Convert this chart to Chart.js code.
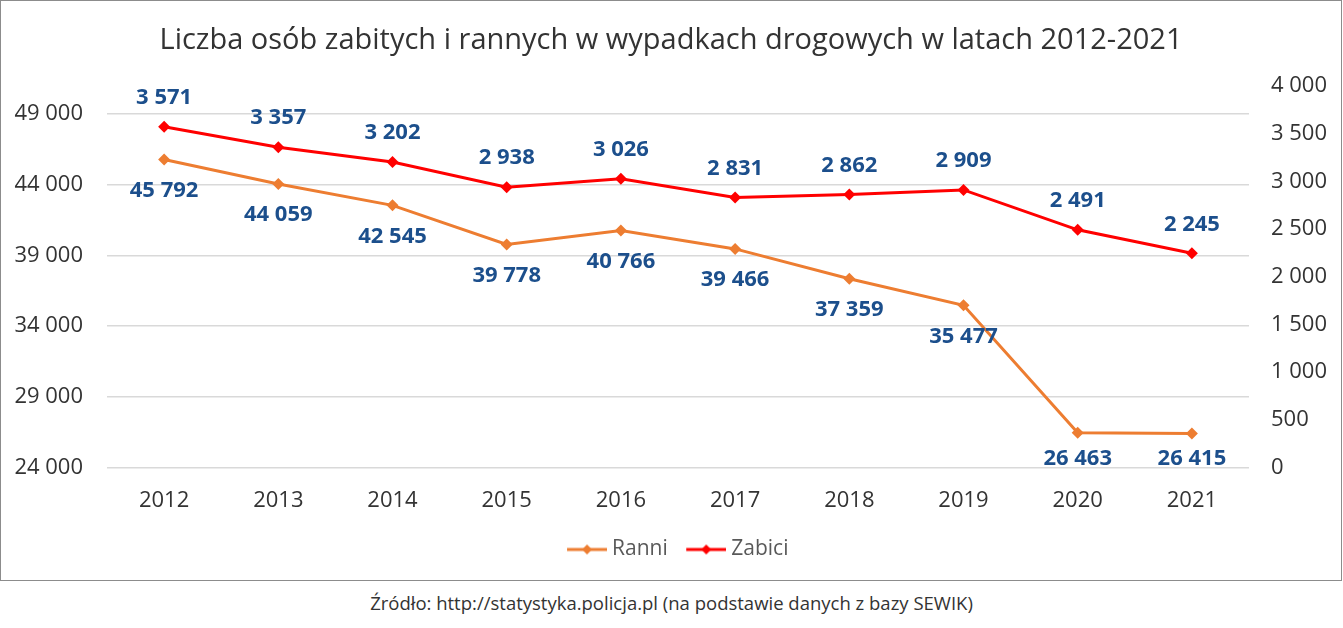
<!DOCTYPE html>
<html>
<head>
<meta charset="utf-8">
<script src="https://cdn.jsdelivr.net/npm/chart.js@4"></script>
<style>
  body { margin: 0; background: #fff; }
  #box { position: absolute; left: 0; top: 0; width: 1340px; height: 579px; border: 1px solid #8c8c8c; }
  #src { position: absolute; left: 0; top: 590px; width: 1343px; text-align: center;
         font: 18.5px "Open Sans"; color: #333; }
</style>
</head>
<body>
<div id="box"><canvas id="myChart" width="1340" height="579"></canvas></div>
<div id="src">Źródło: http://statystyka.policja.pl (na podstawie danych z bazy SEWIK)</div>
<script>
var years = ['2012', '2013', '2014', '2015', '2016', '2017', '2018', '2019', '2020', '2021'];
var ranni = [45792, 44059, 42545, 39778, 40766, 39466, 37359, 35477, 26463, 26415];
var zabici = [3571, 3357, 3202, 2938, 3026, 2831, 2862, 2909, 2491, 2245];
var leftTicks = [24000, 29000, 34000, 39000, 44000, 49000];
var rightTicks = [0, 500, 1000, 1500, 2000, 2500, 3000, 3500, 4000];

var FONT = '"Open Sans", "Liberation Sans", sans-serif';

function fmt(v) {
    return String(v).replace(/\B(?=(\d{3})+(?!\d))/g, ' ');
}

// legend icon: line with a diamond, drawn at the right end of a wider
// transparent image so there is a gap between items and little before the text
function legendIcon(color) {
    var c = document.createElement('canvas');
    c.width = 59; c.height = 14;
    var g = c.getContext('2d');
    g.strokeStyle = color;
    g.lineWidth = 3;
    g.beginPath(); g.moveTo(19, 7); g.lineTo(59, 7); g.stroke();
    g.fillStyle = color;
    g.beginPath(); g.moveTo(39, 2); g.lineTo(44, 7); g.lineTo(39, 12); g.lineTo(34, 7); g.closePath(); g.fill();
    return c;
}

var valueLabels = {
    id: 'valueLabels',
    afterDatasetsDraw(chart) {
        var ctx = chart.ctx;
        ctx.save();
        ctx.font = 'bold 22px ' + FONT;
        ctx.fillStyle = '#1c4f8c';
        ctx.textAlign = 'center';
        ctx.textBaseline = 'middle';
        chart.data.datasets.forEach(function (ds, i) {
            var meta = chart.getDatasetMeta(i);
            meta.data.forEach(function (pt, j) {
                var y;
                if (ds.labelAbove) y = pt.y - 29;
                else y = Math.min(pt.y + 31, chart.chartArea.bottom - 9);
                ctx.fillText(fmt(ds.data[j]), pt.x, y);
            });
        });
        ctx.restore();
    }
};

var ctx = document.getElementById('myChart');
let myChart = new Chart(ctx, {
    type: 'line',
    data: {
        labels: years,
        datasets: [
        {
            label: 'Ranni',
            data: ranni,
            yAxisID: 'y',
            borderColor: '#ed7d31',
            backgroundColor: '#ed7d31',
            borderWidth: 3,
            pointStyle: 'rectRot',
            pointRadius: 6,
            pointBorderWidth: 0,
            labelAbove: false
        },
        {
            label: 'Zabici',
            data: zabici,
            yAxisID: 'y1',
            borderColor: '#ff0000',
            backgroundColor: '#ff0000',
            borderWidth: 3,
            pointStyle: 'rectRot',
            pointRadius: 6,
            pointBorderWidth: 0,
            labelAbove: true
        }]
    },
    options: {
        responsive: false,
        animation: false,
        layout: { padding: { left: 0, right: 0, top: 0, bottom: 10 } },
        plugins: {
            title: {
                display: true,
                text: 'Liczba osób zabitych i rannych w wypadkach drogowych w latach 2012-2021',
                color: '#333',
                font: { family: FONT, size: 29, weight: 'normal' },
                padding: { top: 22, bottom: 28 }
            },
            legend: {
                position: 'bottom',
                labels: {
                    color: '#595959',
                    font: { family: FONT, size: 21 },
                    usePointStyle: true,
                    pointStyleWidth: 48,
                    padding: 5,
                    generateLabels: function (chart) {
                        var items = Chart.defaults.plugins.legend.labels.generateLabels(chart);
                        items.forEach(function (it) {
                            it.pointStyle = legendIcon(chart.data.datasets[it.datasetIndex].borderColor);
                        });
                        return items;
                    }
                }
            },
            tooltip: { enabled: false }
        },
        scales: {
            x: {
                offset: true,
                grid: { display: false, drawTicks: false },
                border: { display: false },
                ticks: { color: '#333', font: { family: FONT, size: 22 }, padding: 20 }
            },
            y: {
                position: 'left',
                min: 24000,
                max: 51000,
                afterBuildTicks: function (axis) {
                    axis.ticks = leftTicks.map(function (v) { return { value: v }; });
                },
                afterFit: function (axis) { axis.width = 106; },
                grid: { color: '#d9d9d9', lineWidth: 1.5, drawTicks: false },
                border: { display: false },
                ticks: {
                    color: '#333',
                    font: { family: FONT, size: 22 },
                    padding: 24,
                    callback: function (v) { return fmt(v); }
                }
            },
            y1: {
                position: 'right',
                min: 0,
                max: 4000,
                afterBuildTicks: function (axis) {
                    axis.ticks = rightTicks.map(function (v) { return { value: v }; });
                },
                afterFit: function (axis) { axis.width = 92; },
                grid: { display: false, drawTicks: false },
                border: { display: false },
                ticks: {
                    color: '#333',
                    font: { family: FONT, size: 22 },
                    padding: 22,
                    callback: function (v) { return fmt(v); }
                }
            }
        }
    },
    plugins: [valueLabels]
});
</script>
</body>
</html>
